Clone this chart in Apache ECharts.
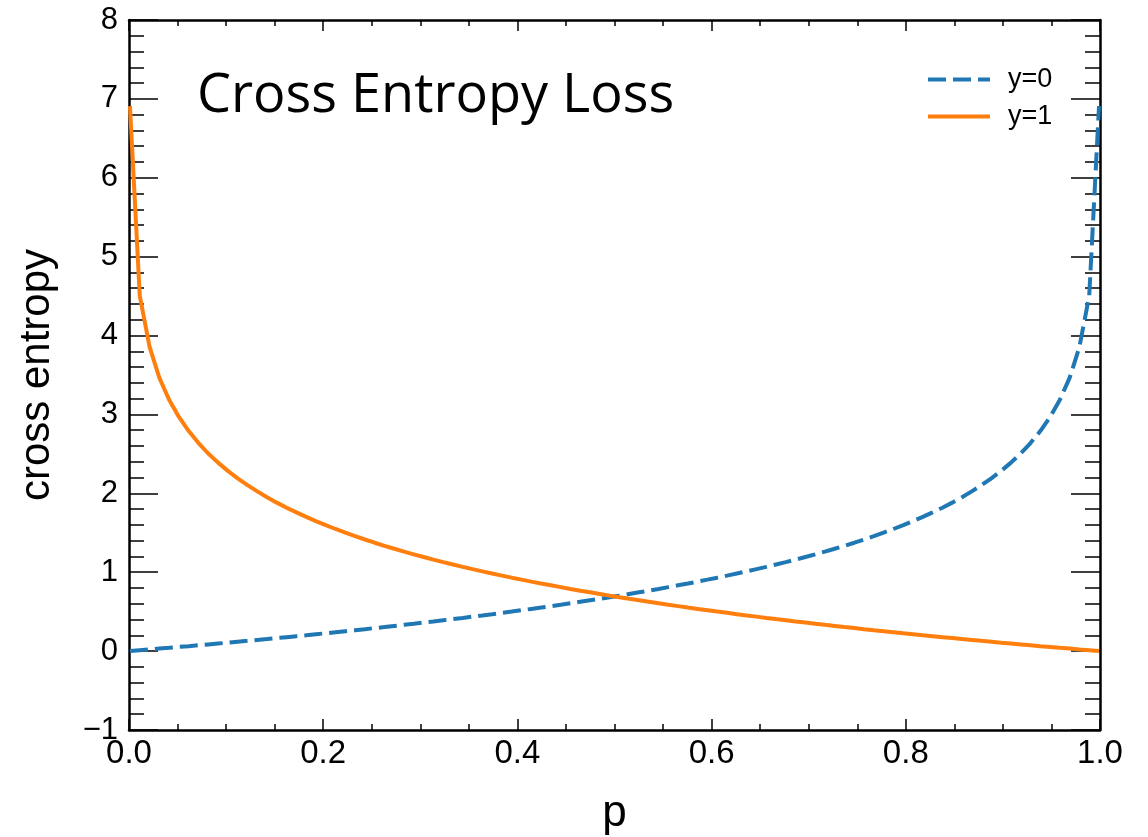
<!DOCTYPE html>
<html>
<head>
<meta charset="utf-8">
<title>Cross Entropy Loss</title>
<script src="https://cdn.jsdelivr.net/npm/echarts@6/dist/echarts.min.js"></script>
<style>
  html, body { margin: 0; padding: 0; background: #ffffff; }
  #chart { width: 1148px; height: 837px; }
</style>
</head>
<body>
<div id="chart"></div>
<script>
// Predicted probability p
const P = [
  0.001, 0.0111, 0.0212, 0.0312, 0.0413, 0.0514, 0.0615, 0.0716, 0.0816, 0.0917,
  0.1018, 0.1119, 0.1220, 0.1321, 0.1421, 0.1522, 0.1623, 0.1724, 0.1825, 0.1925,
  0.2026, 0.2127, 0.2228, 0.2329, 0.2429, 0.2530, 0.2631, 0.2732, 0.2833, 0.2933,
  0.3034, 0.3135, 0.3236, 0.3337, 0.3437, 0.3538, 0.3639, 0.3740, 0.3841, 0.3942,
  0.4042, 0.4143, 0.4244, 0.4345, 0.4446, 0.4546, 0.4647, 0.4748, 0.4849, 0.4950,
  0.5050, 0.5151, 0.5252, 0.5353, 0.5454, 0.5554, 0.5655, 0.5756, 0.5857, 0.5958,
  0.6058, 0.6159, 0.6260, 0.6361, 0.6462, 0.6563, 0.6663, 0.6764, 0.6865, 0.6966,
  0.7067, 0.7167, 0.7268, 0.7369, 0.7470, 0.7571, 0.7671, 0.7772, 0.7873, 0.7974,
  0.8075, 0.8175, 0.8276, 0.8377, 0.8478, 0.8579, 0.8679, 0.8780, 0.8881, 0.8982,
  0.9083, 0.9184, 0.9284, 0.9385, 0.9486, 0.9587, 0.9688, 0.9788, 0.9889, 0.999
];

// Loss when the true label is 0
const LOSS_Y0 = [
  0.001, 0.011, 0.021, 0.032, 0.042, 0.053, 0.063, 0.074, 0.085, 0.096,
  0.107, 0.119, 0.130, 0.142, 0.153, 0.165, 0.177, 0.189, 0.201, 0.214,
  0.226, 0.239, 0.252, 0.265, 0.278, 0.292, 0.305, 0.319, 0.333, 0.347,
  0.362, 0.376, 0.391, 0.406, 0.421, 0.437, 0.452, 0.468, 0.485, 0.501,
  0.518, 0.535, 0.552, 0.570, 0.588, 0.606, 0.625, 0.644, 0.663, 0.683,
  0.703, 0.724, 0.745, 0.766, 0.788, 0.811, 0.834, 0.857, 0.881, 0.906,
  0.931, 0.957, 0.984, 1.011, 1.039, 1.068, 1.098, 1.128, 1.160, 1.193,
  1.226, 1.261, 1.298, 1.335, 1.374, 1.415, 1.457, 1.502, 1.548, 1.596,
  1.648, 1.701, 1.758, 1.818, 1.882, 1.951, 2.025, 2.104, 2.190, 2.285,
  2.389, 2.505, 2.637, 2.789, 2.968, 3.186, 3.466, 3.856, 4.503, 6.908
];

// Loss when the true label is 1
const LOSS_Y1 = [
  6.908, 4.503, 3.856, 3.466, 3.186, 2.968, 2.789, 2.637, 2.505, 2.389,
  2.285, 2.190, 2.104, 2.025, 1.951, 1.882, 1.818, 1.758, 1.701, 1.648,
  1.596, 1.548, 1.502, 1.457, 1.415, 1.374, 1.335, 1.298, 1.261, 1.226,
  1.193, 1.160, 1.128, 1.098, 1.068, 1.039, 1.011, 0.984, 0.957, 0.931,
  0.906, 0.881, 0.857, 0.834, 0.811, 0.788, 0.766, 0.745, 0.724, 0.703,
  0.683, 0.663, 0.644, 0.625, 0.606, 0.588, 0.570, 0.552, 0.535, 0.518,
  0.501, 0.485, 0.468, 0.452, 0.437, 0.421, 0.406, 0.391, 0.376, 0.362,
  0.347, 0.333, 0.319, 0.305, 0.292, 0.278, 0.265, 0.252, 0.239, 0.226,
  0.214, 0.201, 0.189, 0.177, 0.165, 0.153, 0.142, 0.130, 0.119, 0.107,
  0.096, 0.085, 0.074, 0.063, 0.053, 0.042, 0.032, 0.021, 0.011, 0.001
];

const SERIES_NAMES = ['y=0', 'y=1'];
const TITLE = 'Cross Entropy Loss';
const X_NAME = 'p';
const Y_NAME = 'cross entropy';

const FONT = '"Liberation Sans", Arial, Helvetica, sans-serif';
const AXIS_COLOR = '#000000';
const BLUE = '#1f77b4';
const ORANGE = '#ff7f0e';

function pairs(xs, ys) {
  return xs.map((x, i) => [x, ys[i]]);
}

function xAxisBase(position, showLabels) {
  return {
    type: 'value',
    position: position,
    min: 0,
    max: 1,
    interval: 0.2,
    splitLine: { show: false },
    axisLine: { show: true, onZero: false, lineStyle: { color: AXIS_COLOR, width: 2.5 } },
    axisTick: { show: true, inside: true, length: 11, lineStyle: { color: AXIS_COLOR, width: 1.5 } },
    minorTick: { show: true, splitNumber: 4, length: 6, lineStyle: { color: AXIS_COLOR, width: 1.5 } },
    axisLabel: {
      show: showLabels,
      margin: 7,
      color: '#000',
      fontFamily: FONT,
      fontSize: 33,
      formatter: v => v.toFixed(1)
    }
  };
}

function yAxisBase(position, showLabels) {
  return {
    type: 'value',
    position: position,
    min: -1,
    max: 8,
    interval: 1,
    splitLine: { show: false },
    axisLine: { show: true, onZero: false, lineStyle: { color: AXIS_COLOR, width: 2.5 } },
    axisTick: { show: true, inside: true, length: 29, lineStyle: { color: AXIS_COLOR, width: 1.5 } },
    minorTick: { show: true, splitNumber: 5, length: 15, lineStyle: { color: AXIS_COLOR, width: 1.5 } },
    axisLabel: {
      show: showLabels,
      margin: 11,
      color: '#000',
      fontFamily: FONT,
      fontSize: 31,
      formatter: v => String(v).replace('-', '\u2212')
    }
  };
}

const chart = echarts.init(document.getElementById('chart'), null, { renderer: 'canvas' });

const bottomX = Object.assign(xAxisBase('bottom', true), {
  name: X_NAME,
  nameLocation: 'middle',
  nameGap: 62,
  nameTextStyle: { color: '#000', fontFamily: FONT, fontSize: 44 }
});
const leftY = Object.assign(yAxisBase('left', true), {
  name: Y_NAME,
  nameLocation: 'middle',
  nameRotate: 90,
  nameGap: 71,
  nameTextStyle: { color: '#000', fontFamily: FONT, fontSize: 42 }
});

chart.setOption({
  animation: false,
  backgroundColor: '#ffffff',
  title: {
    text: TITLE,
    left: 192,
    top: 65,
    textStyle: {
      color: '#000',
      fontFamily: '"Open Sans", "Noto Sans", sans-serif',
      fontWeight: 'normal',
      fontSize: 54
    }
  },
  legend: {
    data: SERIES_NAMES,
    orient: 'vertical',
    left: 921,
    top: 61,
    itemWidth: 62,
    itemHeight: 27,
    itemGap: 10,
    itemStyle: { color: 'transparent', borderWidth: 0, opacity: 0 },
    lineStyle: { width: 4 },
    textStyle: { color: '#000', fontFamily: FONT, fontSize: 27, lineHeight: 27, padding: [0, 0, 0, 13] }
  },
  grid: {
    left: 129, right: 48, top: 20, bottom: 107,
    containLabel: false,
    outerBoundsMode: 'none'
  },
  xAxis: [bottomX, xAxisBase('top', false)],
  yAxis: [leftY, yAxisBase('right', false)],
  series: [
    {
      name: SERIES_NAMES[0],
      type: 'line',
      data: pairs(P, LOSS_Y0),
      showSymbol: false,
      symbol: 'none',
      lineStyle: { color: BLUE, width: 4, type: [18, 7] },
      itemStyle: { color: BLUE },
      z: 2
    },
    {
      name: SERIES_NAMES[1],
      type: 'line',
      data: pairs(P, LOSS_Y1),
      showSymbol: false,
      symbol: 'none',
      lineStyle: { color: ORANGE, width: 4 },
      itemStyle: { color: ORANGE },
      z: 3
    }
  ]
});
</script>
</body>
</html>
